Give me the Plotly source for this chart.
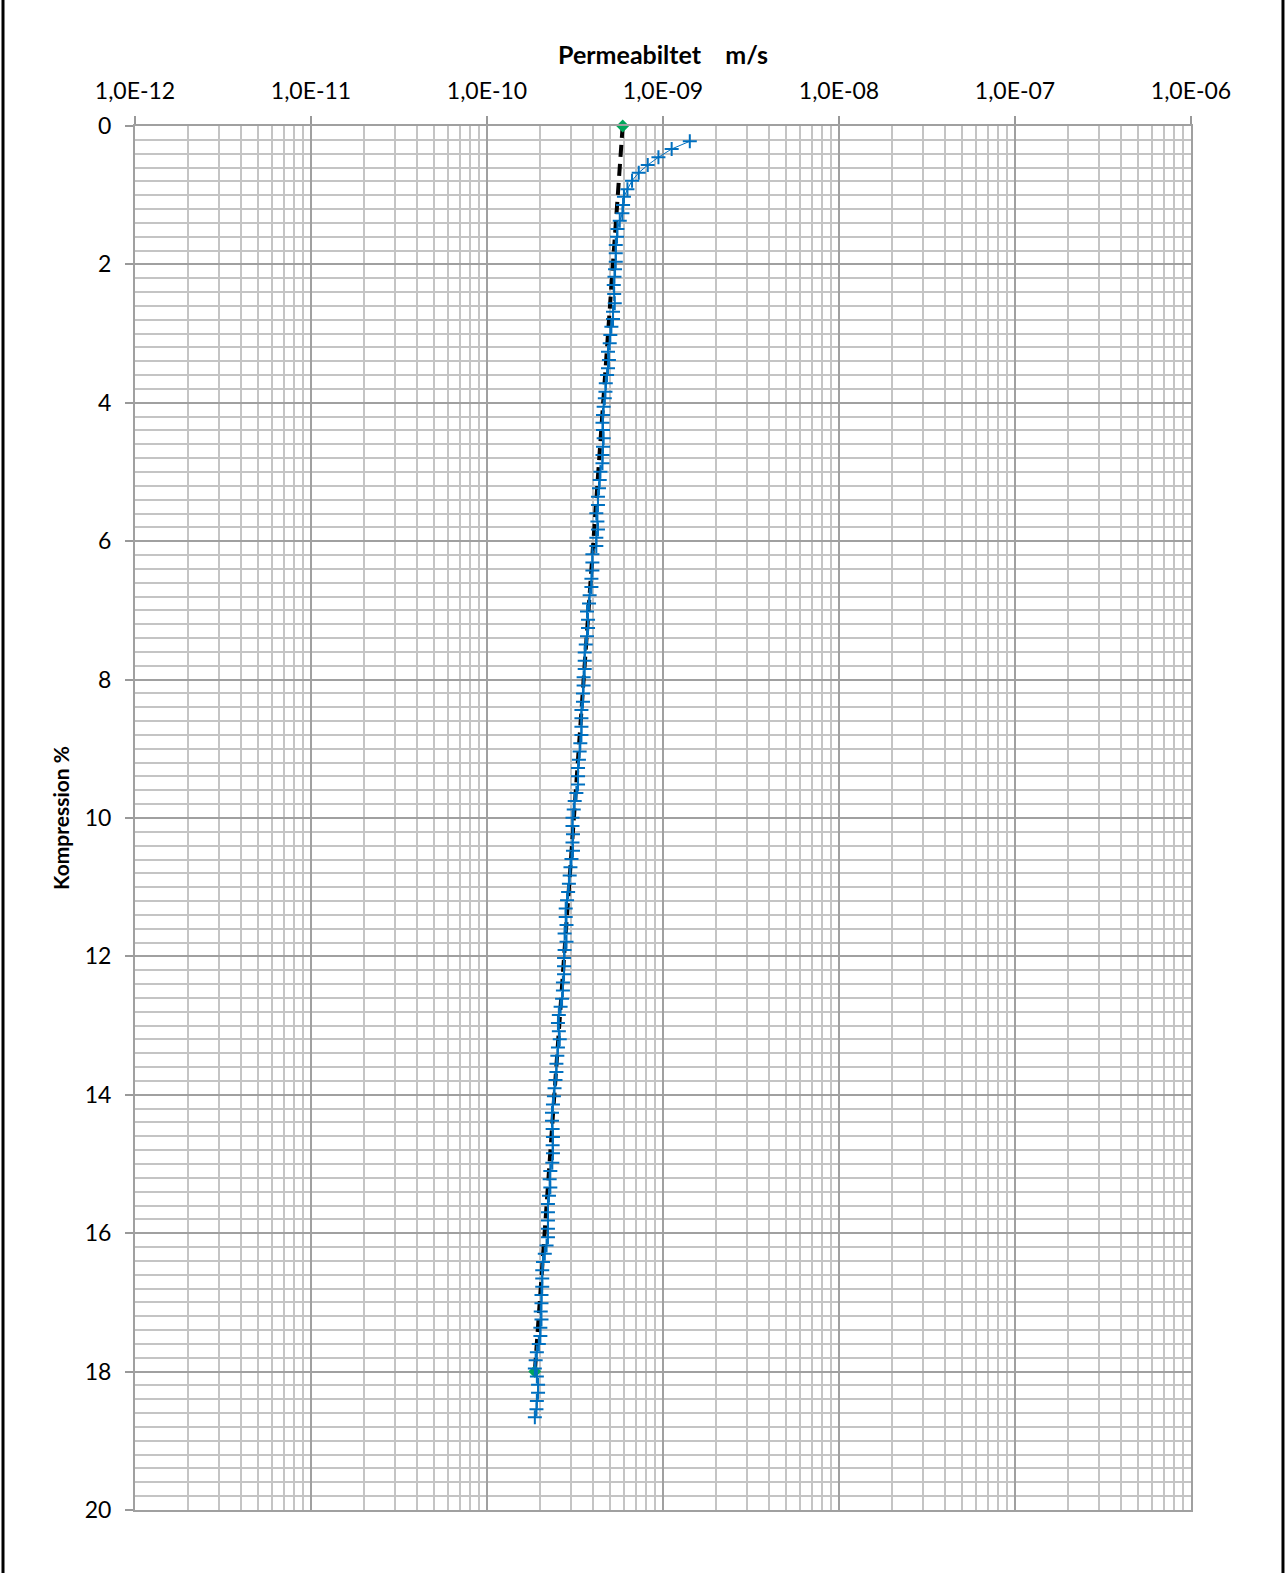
import plotly.graph_objects as go

# Kompression (%) for hvert maalepunkt
kompression = [
    0.221, 0.332, 0.452, 0.564, 0.675, 0.790, 0.915, 1.022, 1.142, 1.262,
    1.368, 1.488, 1.600, 1.720, 1.840, 1.961, 2.071, 2.178, 2.298, 2.428,
    2.562, 2.684, 2.790, 2.900, 3.020, 3.140, 3.262, 3.382, 3.500, 3.598,
    3.718, 3.840, 3.935, 4.056, 4.176, 4.290, 4.393, 4.513, 4.634, 4.754,
    4.874, 4.996, 5.116, 5.236, 5.357,
    5.477, 5.595, 5.714, 5.832, 5.951, 6.069, 6.188, 6.306, 6.425, 6.543,
    6.662, 6.780, 6.899, 7.017, 7.136, 7.254, 7.373, 7.491, 7.610, 7.728,
    7.847, 7.965, 8.084, 8.202, 8.321, 8.439, 8.558,
    8.681, 8.800, 8.920, 9.039, 9.159, 9.278, 9.398, 9.517, 9.637, 9.756,
    9.876, 9.995, 10.115, 10.234, 10.354, 10.473, 10.593, 10.712, 10.831, 10.951,
    11.070, 11.190, 11.309, 11.429, 11.548, 11.668,
    11.788, 11.906, 12.023, 12.141, 12.258, 12.376, 12.494, 12.611, 12.729, 12.846,
    12.964, 13.082, 13.199, 13.317, 13.434, 13.552, 13.670, 13.787, 13.905, 14.022,
    14.140, 14.258, 14.375, 14.493, 14.610, 14.728, 14.846,
    14.981, 15.101, 15.220, 15.340, 15.459, 15.579, 15.698, 15.818, 15.937, 16.057,
    16.176, 16.296, 16.415, 16.535, 16.654, 16.774, 16.893, 17.013,
    17.131, 17.248, 17.366, 17.484, 17.601, 17.719, 17.837, 17.954, 18.072, 18.190,
    18.307, 18.425, 18.543, 18.660,
]

# Permeabilitet i enheder af 1e-10 m/s
permeabilitet_e10 = [
    14.2, 11.2, 9.42, 8.19, 7.28, 6.67, 6.28, 6.00, 5.93, 5.88,
    5.68, 5.51, 5.48, 5.39, 5.39, 5.39, 5.34, 5.30, 5.25, 5.28,
    5.32, 5.20, 5.20, 5.09, 5.02, 4.98, 4.87, 4.93, 4.87, 4.81,
    4.73, 4.71, 4.67, 4.60, 4.56, 4.53, 4.56, 4.60, 4.56, 4.53,
    4.53, 4.41, 4.37, 4.33, 4.27,
    4.27, 4.18, 4.24, 4.27, 4.18, 4.18, 3.97, 3.97, 3.97, 3.92,
    3.92, 3.83, 3.80, 3.70, 3.75, 3.75, 3.70, 3.64, 3.59, 3.59,
    3.59, 3.54, 3.54, 3.51, 3.51, 3.44, 3.44,
    3.44, 3.44, 3.39, 3.36, 3.33, 3.29, 3.29, 3.29, 3.22, 3.15,
    3.11, 3.06, 3.06, 3.08, 3.06, 3.08, 3.02, 2.98, 2.95, 2.92,
    2.89, 2.85, 2.80, 2.80, 2.83, 2.76,
    2.83, 2.76, 2.74, 2.74, 2.74, 2.70, 2.70, 2.67, 2.62, 2.56,
    2.53, 2.56, 2.59, 2.53, 2.51, 2.48, 2.48, 2.45, 2.42, 2.40,
    2.37, 2.34, 2.34, 2.36, 2.37, 2.36, 2.37,
    2.35, 2.29, 2.27, 2.29, 2.25, 2.22, 2.22, 2.22, 2.22, 2.22,
    2.18, 2.13, 2.08, 2.06, 2.06, 2.06, 2.04, 2.04,
    2.02, 2.04, 2.01, 2.01, 1.97, 1.92, 1.89, 1.87, 1.92, 1.95,
    1.95, 1.92, 1.91, 1.87,
]

# Linje mellem start- og slutpunkt (gronne punkter)
trend_kompression = [0, 18]
trend_permeabilitet = [5.90e-10, 1.87e-10]

x_tickvals = [1e-12, 1e-11, 1e-10, 1e-9, 1e-8, 1e-7, 1e-6]
x_ticktext = ["1,0E-12", "1,0E-11", "1,0E-10", "1,0E-09", "1,0E-08", "1,0E-07", "1,0E-06"]
x_minor = [m * 10.0 ** e for e in range(-12, -6) for m in range(2, 10)]

permeabilitet = [v * 1e-10 for v in permeabilitet_e10]

fig = go.Figure()

# Stiplet linje
fig.add_trace(go.Scatter(
    x=trend_permeabilitet, y=trend_kompression,
    mode="lines",
    line=dict(color="black", width=4, dash="12px,7px"),
    showlegend=False,
))

# Start- og slutpunkt
fig.add_trace(go.Scatter(
    x=trend_permeabilitet, y=trend_kompression,
    mode="markers",
    marker=dict(symbol="diamond", size=10, color="#00A65A"),
    cliponaxis=False,
    showlegend=False,
))

# Maalepunkter
fig.add_trace(go.Scatter(
    x=permeabilitet, y=kompression,
    mode="lines+markers",
    line=dict(color="#0070C0", width=1),
    marker=dict(symbol="cross-thin", size=10, line=dict(color="#0070C0", width=2)),
    showlegend=False,
))

font_name = "Lato"

fig.update_xaxes(
    type="log",
    range=[-12, -6],
    side="top",
    tickvals=x_tickvals,
    ticktext=x_ticktext,
    ticks="outside",
    ticklen=8,
    tickcolor="#999999",
    tickwidth=2,
    ticklabelstandoff=8,
    tickfont=dict(family=font_name, size=23, color="black"),
    showgrid=True,
    gridcolor="#A0A0A0",
    gridwidth=2,
    minor=dict(tickvals=x_minor, showgrid=True, gridcolor="#C4C4C4", gridwidth=2, ticks=""),
    showline=True,
    linecolor="#A0A0A0",
    linewidth=2,
    mirror=True,
    zeroline=False,
    title=dict(text="<b>Permeabiltet\u00a0\u00a0\u00a0\u00a0m/s</b>",
               font=dict(family=font_name, size=25, color="black"),
               standoff=4),
)

fig.update_yaxes(
    range=[20, 0],
    dtick=2,
    tick0=0,
    ticks="outside",
    ticklen=8,
    tickcolor="#999999",
    tickwidth=2,
    ticklabelstandoff=9,
    tickfont=dict(family=font_name, size=23, color="black"),
    showgrid=True,
    gridcolor="#A0A0A0",
    gridwidth=2,
    minor=dict(dtick=0.2, showgrid=True, gridcolor="#C4C4C4", gridwidth=2, ticks=""),
    showline=True,
    linecolor="#A0A0A0",
    linewidth=2,
    mirror=True,
    zeroline=False,
    title=dict(text="<b>Kompression %</b>",
               font=dict(family=font_name, size=21, color="black"),
               standoff=9),
)

# Sorte kanter i venstre og hoejre side af siden
for xp in [-0.1250, 1.0871]:
    fig.add_shape(type="line", xref="paper", yref="paper",
                  x0=xp, x1=xp, y0=-0.05, y1=1.1,
                  line=dict(color="black", width=3))

fig.update_layout(
    width=1285,
    height=1573,
    margin=dict(l=135, r=94, t=126, b=63),
    plot_bgcolor="white",
    paper_bgcolor="white",
    font=dict(family=font_name, color="black"),
)

# uden sidens standardmargen passer figuren praecis i vinduet
fig.write_html("out.html",
               config={"displayModeBar": False},
               post_script="document.body.style.margin='0px';document.body.style.overflow='hidden';")
